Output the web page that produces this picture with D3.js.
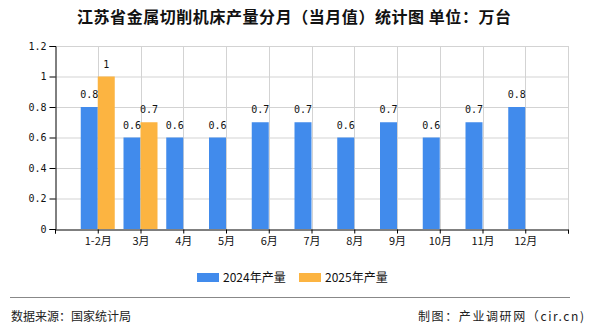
<!DOCTYPE html>
<html><head><meta charset="utf-8">
<script src="https://cdn.jsdelivr.net/npm/d3@7/dist/d3.min.js"></script>
<style>body{margin:0;background:#fff}svg{display:block}</style>
</head><body>
<script>
const categories = ["1-2月","3月","4月","5月","6月","7月","8月","9月","10月","11月","12月"];
const values2024 = [0.8,0.6,0.6,0.6,0.7,0.7,0.6,0.7,0.6,0.7,0.8];
const values2025 = [1,0.7];
const yTicks = [0,0.2,0.4,0.6,0.8,1,1.2];
const seriesNames = ["2024年产量","2025年产量"];
const colors = ["#418BEC","#FCB441"];
const titleText = "江苏省金属切削机床产量分月（当月值）统计图 单位：万台";
const sourceText = "数据来源：国家统计局";
const creditText = "制图：产业调研网（cir.cn)";

const W = 590, H = 330;
const m = {left:55, right:568, top:46, bottom:229};
const svg = d3.select("body").append("svg").attr("width",W).attr("height",H);
const cjk = "'Noto Sans CJK SC','Noto Sans',sans-serif";
const mono = "'DejaVu Sans Mono','Liberation Mono',monospace";

const x = d3.scaleLinear().domain([0, categories.length + 1]).range([m.left, m.right]);
const y = d3.scaleLinear().domain([0, 1.2]).range([m.bottom, m.top]);
const barW = 17;

// title
svg.append("text").attr("x",294).attr("y",23).attr("text-anchor","middle")
  .attr("font-family",cjk).attr("font-size",16).attr("font-weight","bold").attr("fill","#111")
  .attr("textLength",434).attr("lengthAdjust","spacing")
  .text(titleText);

// grid
const g = svg.append("g");
g.selectAll("line.h").data(yTicks.filter(d=>d>0)).enter().append("line")
  .attr("x1",m.left).attr("x2",m.right).attr("y1",d=>y(d)+0.5).attr("y2",d=>y(d)+0.5)
  .attr("stroke","#d3d3d3").attr("stroke-width",1);
g.selectAll("line.v").data(d3.range(1, categories.length + 2)).enter().append("line")
  .attr("x1",d=>Math.round(x(d))+0.5).attr("x2",d=>Math.round(x(d))+0.5).attr("y1",m.top).attr("y2",m.bottom)
  .attr("stroke","#d3d3d3").attr("stroke-width",1);

// bars
const bars = svg.append("g");
bars.selectAll("rect.a").data(values2024).enter().append("rect")
  .attr("x",(d,i)=>x(i+1)-barW).attr("width",barW)
  .attr("y",d=>y(d)).attr("height",d=>y(0)-y(d)).attr("fill",colors[0]);
bars.selectAll("rect.b").data(values2025).enter().append("rect")
  .attr("x",(d,i)=>x(i+1)).attr("width",barW)
  .attr("y",d=>y(d)).attr("height",d=>y(0)-y(d)).attr("fill",colors[1]);

// labels
const lab = svg.append("g").attr("font-family",mono).attr("font-size",10).attr("fill","#111").attr("text-anchor","middle");
lab.selectAll("text.a").data(values2024).enter().append("text")
  .attr("x",(d,i)=>x(i+1)-barW/2).attr("y",d=>y(d)-9).text(d=>d);
lab.selectAll("text.b").data(values2025).enter().append("text")
  .attr("x",(d,i)=>x(i+1)+barW/2).attr("y",d=>y(d)-9).text(d=>d);

// y axis
const ya = svg.append("g").attr("transform",`translate(${m.left+0.5},0)`)
  .call(d3.axisLeft(y).tickValues(yTicks).tickSize(6).tickPadding(3).tickFormat(d=>d));
ya.select(".domain").attr("stroke","#000");
ya.selectAll(".tick line").attr("stroke","#000");
ya.selectAll("text").attr("font-family",mono).attr("font-size",10).attr("fill","#111");

// x axis
const xa = svg.append("g").attr("transform",`translate(0,${m.bottom+0.5})`)
  .call(d3.axisBottom(x).tickValues(d3.range(0, categories.length + 2)).tickSize(4).tickPadding(4)
    .tickFormat(d=> categories[d-1] || ""));
xa.select(".domain").attr("stroke","#000");
xa.selectAll(".tick line").attr("stroke","#000");
xa.selectAll("text").attr("font-family",cjk).attr("font-size",11).attr("fill","#111");

// legend
const leg = svg.append("g");
const legX = [197, 299];
seriesNames.forEach((n,i)=>{
  leg.append("rect").attr("x",legX[i]).attr("y",273).attr("width",22).attr("height",9).attr("fill",colors[i]);
  leg.append("text").attr("x",legX[i]+26).attr("y",281.5).attr("font-family",cjk).attr("font-size",12)
    .attr("fill","#111").text(n);
});

// footer
svg.append("line").attr("x1",10).attr("x2",570).attr("y1",297.5).attr("y2",297.5).attr("stroke","#888").attr("stroke-width",1.2);
svg.append("text").attr("x",11).attr("y",320.5).attr("font-family",cjk).attr("font-size",12).attr("fill","#222").text(sourceText);
svg.append("text").attr("x",584).attr("y",320.5).attr("text-anchor","end").attr("font-family",cjk).attr("font-size",12)
  .attr("fill","#222").attr("textLength",166).attr("lengthAdjust","spacing").text(creditText);
</script>
</body></html>
